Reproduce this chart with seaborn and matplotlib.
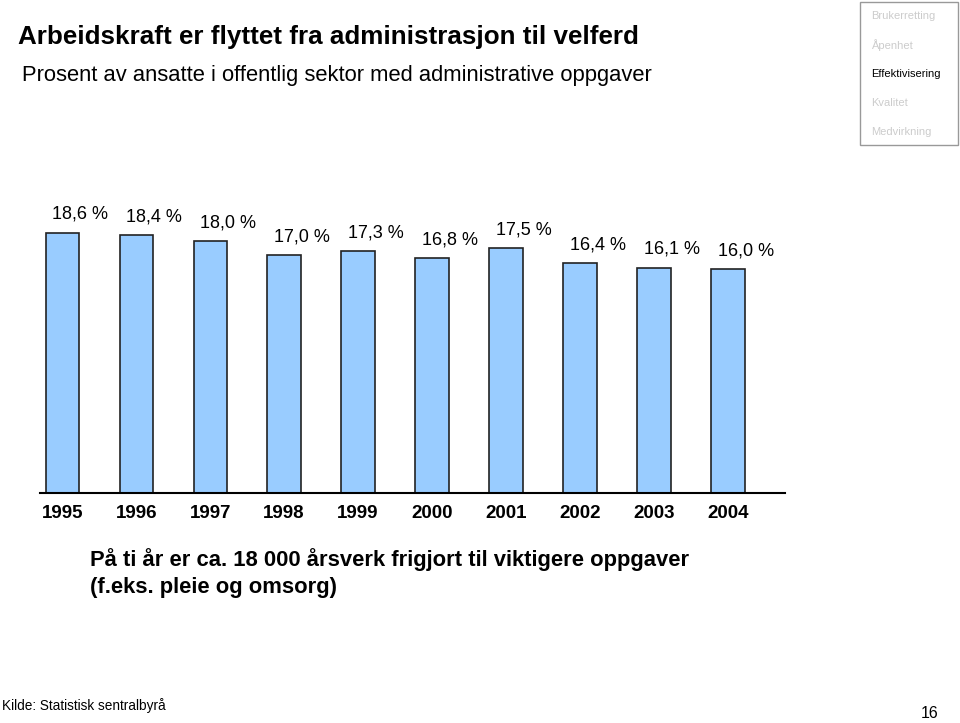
import matplotlib
matplotlib.use('Agg')
import matplotlib.pyplot as plt
import seaborn as sns
import pandas as pd
from matplotlib.patches import Rectangle

years = ['1995', '1996', '1997', '1998', '1999', '2000', '2001', '2002', '2003', '2004']
values = [18.6, 18.4, 18.0, 17.0, 17.3, 16.8, 17.5, 16.4, 16.1, 16.0]
labels = ['18,6 %', '18,4 %', '18,0 %', '17,0 %', '17,3 %', '16,8 %', '17,5 %', '16,4 %', '16,1 %', '16,0 %']
menu = ['Brukerretting', 'Åpenhet', 'Effektivisering', 'Kvalitet', 'Medvirkning']
active = 'Effektivisering'

sns.set_style('white')
plt.rcParams['font.family'] = ['Liberation Sans', 'DejaVu Sans']
plt.rcParams['text.color'] = 'black'
plt.rcParams['xtick.color'] = 'black'

df = pd.DataFrame({'year': years, 'value': values})

fig = plt.figure(figsize=(9.6, 7.23), dpi=100)
ax = fig.add_axes([40 / 960, 230 / 723, 745 / 960, 280 / 723])
sns.barplot(data=df, x='year', y='value', color='#99CCFF', saturation=1,
            edgecolor='#222222', linewidth=1.2, width=0.45, ax=ax)
ax.set_ylim(0, 20)
ax.set_xlim(-0.3, 9.77)
ax.set_xlabel('')
ax.set_ylabel('')
ax.set_yticks([])
for s in ['top', 'left', 'right']:
    ax.spines[s].set_visible(False)
ax.spines['bottom'].set_linewidth(1.5)
ax.spines['bottom'].set_color('black')
ax.tick_params(axis='x', length=0, pad=9, colors='black')
for t in ax.get_xticklabels():
    t.set_fontweight('bold')
    t.set_fontsize(13.5)

for i, (v, lab) in enumerate(zip(values, labels)):
    ax.annotate(lab, (i, v), xytext=(13, 7), textcoords='offset points',
                ha='center', va='bottom', fontsize=13, annotation_clip=False)

fig.text(18 / 960, 1 - 37 / 723, 'Arbeidskraft er flyttet fra administrasjon til velferd',
         fontsize=18.7, fontweight='bold', va='center', ha='left')
fig.text(22 / 960, 1 - 75 / 723, 'Prosent av ansatte i offentlig sektor med administrative oppgaver',
         fontsize=15.8, va='center', ha='left')

# navigation box
fig.patches.append(Rectangle((860 / 960, 1 - 145 / 723), 98 / 960, 143 / 723,
                             transform=fig.transFigure, fill=False,
                             edgecolor='#999999', linewidth=1))
for k, m in enumerate(menu):
    c = 'black' if m == active else '#cccccc'
    fig.text(871 / 960, 1 - (16 + 29 * k) / 723, m, fontsize=8, color=c,
             va='center', ha='left')

fig.text(90 / 960, 1 - 560 / 723, 'På ti år er ca. 18 000 årsverk frigjort til viktigere oppgaver',
         fontsize=15.8, fontweight='bold', va='center', ha='left')
fig.text(90 / 960, 1 - 587 / 723, '(f.eks. pleie og omsorg)',
         fontsize=15.8, fontweight='bold', va='center', ha='left')

fig.text(2 / 960, 1 - 706 / 723, 'Kilde: Statistisk sentralbyrå', fontsize=9.8,
         va='center', ha='left')
fig.text(938 / 960, 1 - 714 / 723, '16', fontsize=11.5, va='center', ha='right')

fig.savefig('out.png', dpi=100)
